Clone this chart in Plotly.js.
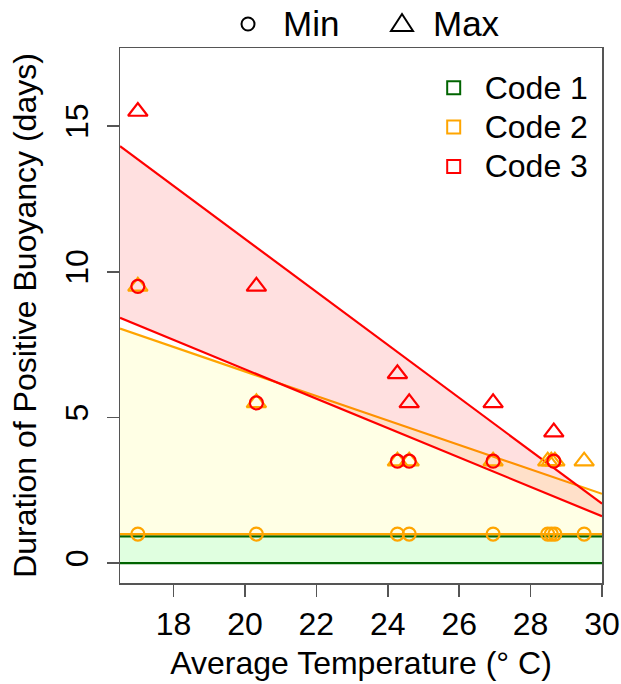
<!DOCTYPE html>
<html>
<head>
<meta charset="utf-8">
<script src="https://cdn.plot.ly/plotly-3.0.1.min.js"></script>
<style>html,body{margin:0;padding:0;background:#fff;}#chart{width:621px;height:684px;}</style>
</head>
<body>
<div id="chart"></div>
<script>
// ---- data ----
var tempCode3 = [17.0, 20.32, 24.27, 24.6, 26.95, 28.65];
var code3Min  = [9.5, 5.5, 3.5, 3.5, 3.5, 3.5];
var code3Max  = [15.5, 9.5, 6.5, 5.5, 5.5, 4.5];

var tempCode2 = [17.0, 20.32, 24.27, 24.6, 26.95, 28.48, 28.58, 28.68, 29.5];
var code2Min  = [1, 1, 1, 1, 1, 1, 1, 1, 1];
var code2Max  = [9.5, 5.5, 3.5, 3.5, 3.5, 3.5, 3.5, 3.5, 3.5];

// fitted lines (values at the two ends of the x range)
var lineX       = [16.5, 30];
var code1Lower  = [0, 0];
var code1Upper  = [0.92, 0.92];
var code2Lower  = [1.0, 1.0];
var code2Upper  = [8.05, 2.38];
var code3Lower  = [8.42, 1.61];
var code3Upper  = [14.31, 2.04];

var xTicks = [18, 20, 22, 24, 26, 28, 30];
var yTicks = [0, 5, 10, 15];
var codeNames = ['Code 1', 'Code 2', 'Code 3'];
var typeNames = ['Min', 'Max'];

// ---- styles ----
var GREEN = '#006400', ORANGE = '#FFA500', RED = '#FF0000';
var FONT = 'Liberation Sans, Arial, Helvetica, sans-serif';

function band(lower, upper, color, fill) {
  return [
    {x: lineX, y: lower, mode: 'lines', line: {color: color, width: 2.2}, showlegend: false, hoverinfo: 'skip'},
    {x: lineX, y: upper, mode: 'lines', line: {color: color, width: 2.2}, fill: 'tonexty', fillcolor: fill, showlegend: false, hoverinfo: 'skip'}
  ];
}

var traces = [];
traces = traces.concat(band(code1Lower, code1Upper, GREEN, 'rgba(0,255,0,0.12)'));
traces = traces.concat(band(code2Lower, code2Upper, ORANGE, 'rgba(255,255,0,0.10)'));
traces = traces.concat(band(code3Lower, code3Upper, RED, 'rgba(255,0,0,0.12)'));

function pts(x, y, color, symbol, size) {
  return {x: x, y: y, mode: 'markers', showlegend: false, hoverinfo: 'skip',
    marker: {symbol: symbol, size: size, color: color, line: {color: color, width: 2.2}}};
}
traces.push(pts(tempCode2, code2Min, ORANGE, 'circle-open', 13));
traces.push(pts(tempCode2, code2Max, ORANGE, 'triangle-up-open', 17));
traces.push(pts(tempCode3, code3Min, RED, 'circle-open', 13));
traces.push(pts(tempCode3, code3Max, RED, 'triangle-up-open', 17));

// legend entries (Code)
var codeColors = [GREEN, ORANGE, RED];
codeNames.forEach(function (n, i) {
  traces.push({x: [null], y: [null], mode: 'markers', name: '<span style="font-size:32px">' + n + '</span>',
    legend: 'legend', showlegend: true,
    marker: {symbol: 'square-open', size: 13, color: codeColors[i], line: {color: codeColors[i], width: 2}}});
});

// top key (Min / Max): drawn as layout shapes + annotations above the plot
var PLOT_L = 120, PLOT_W = 482, PLOT_B = 583, PLOT_H = 535;
function px2x(px) { return (px - PLOT_L) / PLOT_W; }
function px2y(py) { return (PLOT_B - py) / PLOT_H; }
var keyY = px2y(24);
var shapes = [
  {type: 'circle', xref: 'paper', yref: 'paper', xsizemode: 'pixel', ysizemode: 'pixel',
   xanchor: px2x(248), yanchor: keyY, x0: -6.5, x1: 6.5, y0: -6.5, y1: 6.5,
   line: {color: '#000', width: 2}, fillcolor: 'rgba(0,0,0,0)'},
  {type: 'path', xref: 'paper', yref: 'paper', xsizemode: 'pixel', ysizemode: 'pixel',
   xanchor: px2x(402), yanchor: keyY, path: 'M -11,-7 L 11,-7 L 0,10 Z',
   line: {color: '#000', width: 2}, fillcolor: 'rgba(0,0,0,0)'}
];
var annotations = [
  {text: typeNames[0], xref: 'paper', yref: 'paper', x: px2x(281), y: keyY, xanchor: 'left', yanchor: 'middle',
   showarrow: false, font: {family: FONT, size: 35, color: '#000'}},
  {text: typeNames[1], xref: 'paper', yref: 'paper', x: px2x(431), y: keyY, xanchor: 'left', yanchor: 'middle',
   showarrow: false, font: {family: FONT, size: 35, color: '#000'}}
];

var axisCommon = {
  showgrid: false, zeroline: false, showline: true, mirror: true,
  linecolor: '#555', linewidth: 1.5, ticks: 'outside', ticklen: 12, tickwidth: 1.5, tickcolor: '#555',
  tickfont: {family: FONT, size: 32, color: '#000'}
};

var layout = {
  width: 621, height: 684,
  margin: {l: 120, r: 19, t: 48, b: 101},
  paper_bgcolor: '#fff', plot_bgcolor: '#fff',
  font: {family: FONT, color: '#000'},
  xaxis: Object.assign({}, axisCommon, {
    range: [16.5, 30], tickvals: xTicks, ticktext: xTicks.map(String),
    title: {text: 'Average Temperature (° C)', font: {family: FONT, size: 32, color: '#000'}, standoff: 10}
  }),
  yaxis: Object.assign({}, axisCommon, {
    range: [-0.68, 17.68], tickvals: yTicks, ticktext: yTicks.map(String), tickangle: -90,
    ticklabelstandoff: 6,
    title: {text: 'Duration of Positive Buoyancy (days)', font: {family: FONT, size: 32, color: '#000'}, standoff: 12}
  }),
  legend: {
    x: 0.628, xanchor: 'left', y: 0.972, yanchor: 'top', traceorder: 'normal',
    bgcolor: 'rgba(0,0,0,0)', borderwidth: 0, itemwidth: 52,
    font: {family: FONT, size: 28, color: '#000'}, tracegroupgap: 0
  },
  shapes: shapes,
  annotations: annotations,
  showlegend: true
};

Plotly.newPlot('chart', traces, layout, {displayModeBar: false, staticPlot: true});
</script>
</body>
</html>
